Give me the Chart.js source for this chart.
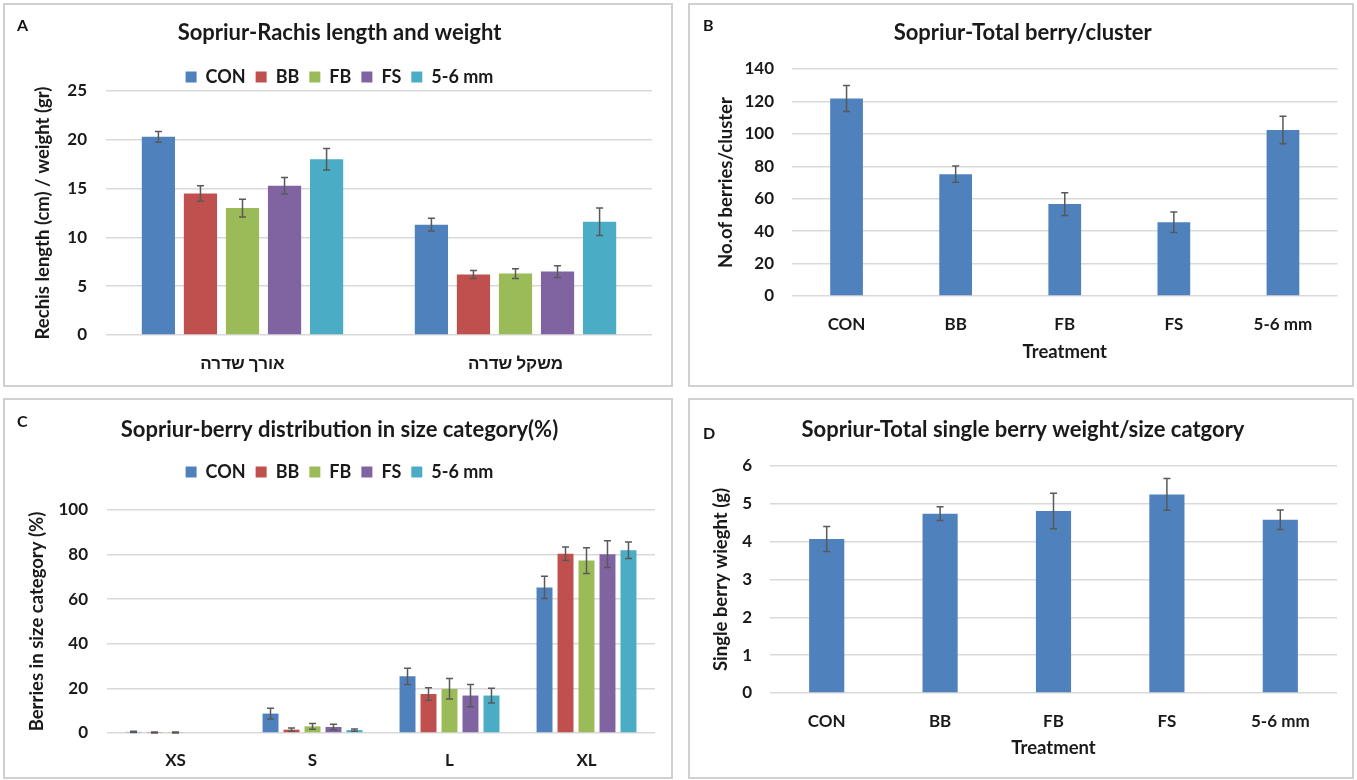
<!DOCTYPE html>
<html>
<head>
<meta charset="utf-8">
<title>Sopriur – cluster and berry measurements</title>
<script src="https://cdn.jsdelivr.net/npm/chart.js@4.4.1/dist/chart.umd.min.js"></script>
<style>
  html, body { margin: 0; padding: 0; background: #ffffff; }
  body { width: 1357px; height: 780px; position: relative; overflow: hidden; }
  .panel { position: absolute; box-sizing: border-box; border: 2px solid #d0d0d0; background: #ffffff; }
  .panel canvas { position: absolute; left: 0; top: 0; }
  .tag { position: absolute; font: bold 16px Lato, "Liberation Sans", sans-serif; color: #141414; }
</style>
</head>
<body>
<div class="panel" style="left:3px;top:3px;width:670px;height:384px"><canvas id="chartA" width="666" height="380"></canvas></div>
<div class="panel" style="left:688px;top:3px;width:666px;height:384px"><canvas id="chartB" width="662" height="380"></canvas></div>
<div class="panel" style="left:3px;top:398px;width:670px;height:381px"><canvas id="chartC" width="666" height="377"></canvas></div>
<div class="panel" style="left:688px;top:398px;width:666px;height:381px"><canvas id="chartD" width="662" height="377"></canvas></div>
<div class="tag" style="left:17px;top:15px">A</div>
<div class="tag" style="left:703px;top:15px">B</div>
<div class="tag" style="left:17px;top:411px">C</div>
<div class="tag" style="left:703px;top:423px">D</div>

<script>
// ---- data ----------------------------------------------------------------
const treatments = ['CON', 'BB', 'FB', 'FS', '5-6 mm'];
const seriesColors = ['#4F81BD', '#C0504D', '#9BBB59', '#8064A2', '#4BACC6'];

// A: rachis length (cm) and rachis weight (gr), per treatment
const rachisParts = ['אורך שדרה', 'משקל שדרה'];
const rachisLength    = [20.3, 14.5, 13.0, 15.3, 18.0];
const rachisLengthErr = [0.55, 0.8, 0.9, 0.85, 1.1];
const rachisWeight    = [11.3, 6.2, 6.3, 6.5, 11.6];
const rachisWeightErr = [0.65, 0.4, 0.5, 0.6, 1.4];

// B: number of berries per cluster
const berriesPerCluster    = [121.8, 75.1, 56.7, 45.5, 102.4];
const berriesPerClusterErr = [8.0, 5.0, 7.0, 6.3, 8.5];

// C: share of berries in each size category (%), per treatment
const sizeCategories = ['XS', 'S', 'L', 'XL'];
const sizeXS    = [0.5, 0.2, 0.2, 0, 0];
const sizeXSErr = [0.3, 0.2, 0.2, 0, 0];
const sizeS     = [8.7, 1.5, 3.0, 2.7, 1.3];
const sizeSErr  = [2.4, 0.7, 1.3, 1.2, 0.5];
const sizeL     = [25.4, 17.5, 19.8, 16.8, 16.8];
const sizeLErr  = [3.6, 2.8, 4.6, 5.0, 3.3];
const sizeXL    = [65.3, 80.4, 77.3, 80.2, 82.0];
const sizeXLErr = [5.0, 3.0, 5.8, 6.0, 3.7];

// D: single berry weight (g)
const berryWeight    = [4.07, 4.74, 4.81, 5.25, 4.58];
const berryWeightErr = [0.33, 0.18, 0.47, 0.42, 0.26];

// ---- shared styling ------------------------------------------------------
const FAMILY = 'Lato, "Liberation Sans", "DejaVu Sans", sans-serif';
const TEXT = '#1a1a1a';
const GRID = '#d9d9d9';
Chart.defaults.font.family = FAMILY;
Chart.defaults.color = TEXT;

// Whisker drawing for each bar: mean ± error taken from dataset.errors
const errorBars = {
  id: 'errorBars',
  afterDatasetsDraw(chart) {
    const ctx = chart.ctx;
    const y = chart.scales.y;
    ctx.save();
    ctx.strokeStyle = '#595959';
    ctx.lineWidth = 1.5;
    chart.data.datasets.forEach((ds, i) => {
      if (!ds.errors) return;
      const meta = chart.getDatasetMeta(i);
      meta.data.forEach((bar, j) => {
        const e = ds.errors[j];
        if (!e) return;
        const v = ds.data[j];
        const top = y.getPixelForValue(v + e);
        const bot = y.getPixelForValue(Math.max(v - e, 0));
        const cap = 3.5;
        ctx.beginPath();
        ctx.moveTo(bar.x, top); ctx.lineTo(bar.x, bot);
        ctx.moveTo(bar.x - cap, top); ctx.lineTo(bar.x + cap, top);
        ctx.moveTo(bar.x - cap, bot); ctx.lineTo(bar.x + cap, bot);
        ctx.stroke();
      });
    });
    ctx.restore();
  }
};

// Lets a chart fix the height of its legend block (spacing below the legend row)
const legendHeight = {
  id: 'legendHeight',
  beforeInit(chart, args, opts) {
    const legend = chart.legend;
    if (!legend || !opts || !opts.height) return;
    const fit = legend.fit;
    legend.fit = function () { fit.call(this); this.height = opts.height; };
  }
};

function barChart(id, cfg) {
  const yTitle = cfg.yTitle;
  const xTitle = cfg.xTitle;
  return new Chart(document.getElementById(id), {
    type: 'bar',
    data: { labels: cfg.labels, datasets: cfg.datasets },
    plugins: [errorBars, legendHeight],
    options: {
      responsive: false,
      animation: false,
      events: [],
      layout: { padding: { left: cfg.leftPad, right: cfg.rightPad, top: 0, bottom: 0 } },
      datasets: { bar: { categoryPercentage: cfg.catPct, barPercentage: cfg.barPct } },
      plugins: {
        title: {
          display: true,
          text: cfg.title,
          color: TEXT,
          font: { size: 22, weight: 'bold' },
          padding: { top: cfg.titlePad[0], bottom: cfg.titlePad[1] }
        },
        legend: {
          display: !!cfg.legend,
          position: 'top',
          labels: {
            boxWidth: 11, boxHeight: 11, padding: 10,
            color: TEXT,
            font: { size: 18, weight: 'bold' }
          }
        },
        legendHeight: { height: cfg.legend ? cfg.legend : 0 },
        tooltip: { enabled: false }
      },
      scales: {
        x: {
          grid: { display: false, drawTicks: false },
          border: { display: false },
          ticks: { padding: cfg.xTickPad, color: TEXT, font: { size: 17, weight: 'bold' } },
          title: xTitle ? {
            display: true, text: xTitle, color: TEXT,
            font: { size: 18.5, weight: 'bold' },
            padding: { top: 0, bottom: cfg.xTitlePad }
          } : { display: false },
          afterFit(s) { s.height = cfg.xHeight; }
        },
        y: {
          min: cfg.yMin, max: cfg.yMax,
          grid: { color: GRID, lineWidth: 1.5, drawTicks: false },
          border: { display: false },
          ticks: { stepSize: cfg.yStep, padding: cfg.yTickPad, color: TEXT, font: { size: 17, weight: 'bold' } },
          title: {
            display: true, text: yTitle, color: TEXT,
            font: { size: 18.5, weight: 'bold' },
            padding: { top: cfg.yTitlePad, bottom: 0 }
          },
          afterFit(s) { s.width = cfg.yWidth; }
        }
      }
    }
  });
}

// A: grouped by rachis measure, one series per treatment
barChart('chartA', {
  title: 'Sopriur-Rachis length and weight',
  labels: rachisParts,
  datasets: treatments.map((t, i) => ({
    label: t,
    data: [rachisLength[i], rachisWeight[i]],
    errors: [rachisLengthErr[i], rachisWeightErr[i]],
    backgroundColor: seriesColors[i]
  })),
  legend: 33,
  titlePad: [14.8, 11.8],
  catPct: 0.77, barPct: 0.79,
  yMin: 0, yMax: 25, yStep: 5,
  yTitle: 'Rechis length (cm) / weight (gr)',
  leftPad: 22, yWidth: 79, yTickPad: 19, yTitlePad: 4.9,
  xHeight: 50, xTickPad: 18,
  rightPad: 19
});

// B: one bar per treatment
barChart('chartB', {
  title: 'Sopriur-Total berry/cluster',
  labels: treatments,
  datasets: [{
    label: 'No.of berries/cluster',
    data: berriesPerCluster,
    errors: berriesPerClusterErr,
    backgroundColor: seriesColors[0]
  }],
  legend: 0,
  titlePad: [14.8, 22.8],
  catPct: 1, barPct: 0.30,
  yMin: 0, yMax: 140, yStep: 20,
  yTitle: 'No.of berries/cluster',
  leftPad: 18, yWidth: 84, yTickPad: 18, yTitlePad: 6.9,
  xTitle: 'Treatment', xTitlePad: 21.9,
  xHeight: 89, xTickPad: 18,
  rightPad: 14.5
});

// C: grouped by size category, one series per treatment
barChart('chartC', {
  title: 'Sopriur-berry distribution in size category(%)',
  labels: sizeCategories,
  datasets: treatments.map((t, i) => ({
    label: t,
    data: [sizeXS[i], sizeS[i], sizeL[i], sizeXL[i]],
    errors: [sizeXSErr[i], sizeSErr[i], sizeLErr[i], sizeXLErr[i]],
    backgroundColor: seriesColors[i]
  })),
  legend: 57,
  titlePad: [16.8, 9.8],
  catPct: 0.766, barPct: 0.76,
  yMin: 0, yMax: 100, yStep: 20,
  yTitle: 'Berries in size category (%)',
  leftPad: 19, yWidth: 83, yTickPad: 19, yTitlePad: 1.9,
  xHeight: 44, xTickPad: 17,
  rightPad: 16
});

// D: one bar per treatment
barChart('chartD', {
  title: 'Sopriur-Total single berry weight/size catgory',
  labels: treatments,
  datasets: [{
    label: 'Single berry wieght (g)',
    data: berryWeight,
    errors: berryWeightErr,
    backgroundColor: seriesColors[0]
  }],
  legend: 0,
  titlePad: [16.8, 22.8],
  catPct: 1, barPct: 0.31,
  yMin: 0, yMax: 6, yStep: 1,
  yTitle: 'Single berry wieght (g)',
  leftPad: 19, yWidth: 61, yTickPad: 18, yTitlePad: 0.9,
  xTitle: 'Treatment', xTitlePad: 17.9,
  xHeight: 84, xTickPad: 18,
  rightPad: 15
});
</script>
</body>
</html>
